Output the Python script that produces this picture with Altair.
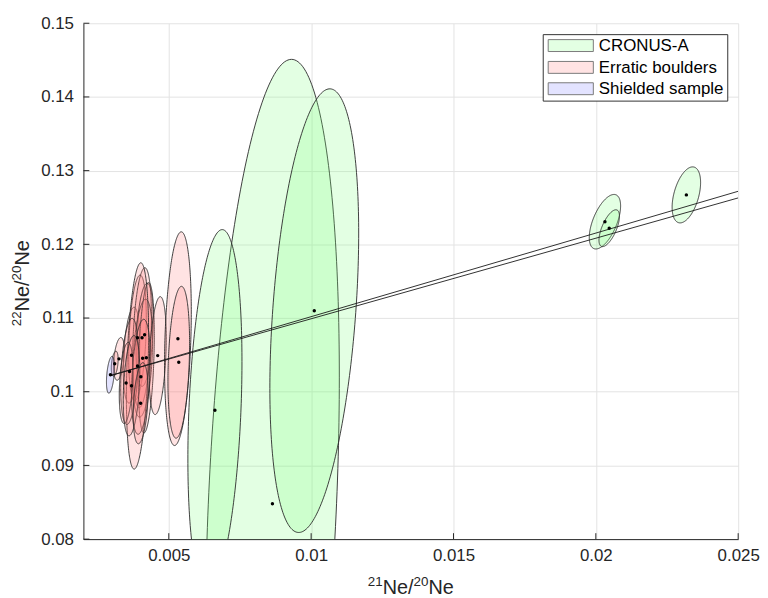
import altair as alt
import numpy as np
import pandas as pd

groups = ["CRONUS-A", "Erratic boulders", "Shielded sample"]
pure_cols = ["#80ff80", "#ff8080", "#8080ff"]
swatch_cols = ["#e3ffe3", "#ffe3e3", "#e3e3ff"]

# CRONUS-A (21/20, 22/20, x extent, y extent, correlation)
cr_x = [0.00864, 0.01011, 0.00662, 0.02032, 0.02047, 0.02318]
cr_y = [0.0848, 0.1110, 0.0975, 0.12307, 0.12219, 0.12671]
cr_sx = [0.00235, 0.00156, 0.00095, 0.00055, 0.00036, 0.00050]
cr_sy = [0.0603, 0.0301, 0.0245, 0.0037, 0.0025, 0.0038]
cr_r = [0.285, 0.35, 0.27, 0.58, 0.65, 0.44]

# Erratic boulders
er_x = [0.00325, 0.00310, 0.00369, 0.00390, 0.00406, 0.00415, 0.00408, 0.00421,
        0.00390, 0.00362, 0.00402, 0.00350, 0.00369, 0.00401, 0.00461, 0.00532, 0.00535]
er_y = [0.10446, 0.10380, 0.10496, 0.10733, 0.10733, 0.10773, 0.10455, 0.10460,
        0.10350, 0.10275, 0.10203, 0.10119, 0.10082, 0.09844, 0.10490, 0.10720, 0.10400]
er_sx = [0.00019, 0.00012, 0.00029, 0.00031, 0.00033, 0.00030, 0.00035, 0.00028,
         0.00039, 0.00031, 0.00033, 0.00024, 0.00029, 0.00026, 0.00030, 0.00047, 0.00038]
er_sy = [0.0029, 0.0017, 0.0065, 0.0085, 0.0095, 0.0070, 0.0080, 0.0102,
         0.0140, 0.0072, 0.0078, 0.0055, 0.0068, 0.0055, 0.0080, 0.0145, 0.0103]
er_r = [0.35, 0.35, 0.3, 0.3, 0.3, 0.3, 0.3, 0.3,
        0.3, 0.3, 0.3, 0.3, 0.3, 0.3, 0.3, 0.25, 0.25]

# Shielded sample
sh_x = [0.00295]
sh_y = [0.1023]
sh_sx = [0.00014]
sh_sy = [0.0025]
sh_r = [0.4]

# Two lines
line_x = [0.00296, 0.025]
line1_y = [0.1022, 0.1272]
line2_y = [0.1022, 0.1263]

x_ticks = [0.005, 0.01, 0.015, 0.02, 0.025]
y_ticks = [0.08, 0.09, 0.10, 0.11, 0.12, 0.13, 0.14, 0.15]

# axis title pieces: (text, is_superscript)
x_title = [("21", True), ("Ne/", False), ("20", True), ("Ne", False)]
y_title = [("22", True), ("Ne/", False), ("20", True), ("Ne", False)]

sets = [
    (groups[0], cr_x, cr_y, cr_sx, cr_sy, cr_r),
    (groups[1], er_x, er_y, er_sx, er_sy, er_r),
    (groups[2], sh_x, sh_y, sh_sx, sh_sy, sh_r),
]

t = np.linspace(0, np.pi, 121)
ell_rows, pt_rows = [], []
eid = 0
for g, xs_, ys_, sxs, sys_, rs in sets:
    for cx, cy, sx, sy, r in zip(xs_, ys_, sxs, sys_, rs):
        q = np.sqrt(1 - r * r)
        ex = cx + sx * np.cos(t)
        yu = cy + sy * (r * np.cos(t) + q * np.sin(t))
        yl = cy + sy * (r * np.cos(t) - q * np.sin(t))
        for a, b, c in zip(ex, yu, yl):
            ell_rows.append({"id": eid, "group": g, "x": a, "y": b, "y2": c})
        pt_rows.append({"group": g, "x": cx, "y": cy})
        eid += 1
ell = pd.DataFrame(ell_rows)
pts = pd.DataFrame(pt_rows)

lines = pd.DataFrame({
    "x": line_x + line_x,
    "y": line1_y + line2_y,
    "line": ["a", "a", "b", "b"],
})

FONT = "Liberation Sans"
INK = "#262626"
W, H = 660, 520

x_scale = alt.Scale(domain=[0.002, 0.025], nice=False, zero=False)
y_scale = alt.Scale(domain=[0.08, 0.15], nice=False, zero=False)
x_axis = alt.Axis(values=x_ticks, format="~g", title=None, ticks=False, tickSize=0,
                  labelPadding=9, labelFlush=False, labelOverlap=False)
y_axis = alt.Axis(values=y_ticks, format="~g", title=None, ticks=False, tickSize=0,
                  labelPadding=10, labelFlush=False, labelOverlap=False)
X = alt.X("x:Q", scale=x_scale, axis=x_axis)
Y = alt.Y("y:Q", scale=y_scale, axis=y_axis)

ellipses = alt.Chart(ell).mark_area(
    clip=True, fillOpacity=0.22, stroke="#2a2a2a", strokeWidth=0.9
).encode(
    x=X, y=Y, y2="y2:Q", detail="id:N",
    fill=alt.Fill("group:N", scale=alt.Scale(domain=groups, range=pure_cols), legend=None),
)

spall = alt.Chart(lines).mark_line(clip=True, color="#1a1a1a", strokeWidth=0.9).encode(
    x=X, y=Y, detail="line:N"
)

dots = alt.Chart(pts).mark_circle(size=12, color="black", opacity=1).encode(x=X, y=Y)

xt = pd.DataFrame({"x": x_ticks})
yt = pd.DataFrame({"y": y_ticks})
xtick_rules = alt.Chart(xt).mark_rule(color=INK, strokeWidth=1).encode(
    x=X, y=alt.value(H), y2=alt.value(H - 6))
ytick_rules = alt.Chart(yt).mark_rule(color=INK, strokeWidth=1).encode(
    y=Y, x=alt.value(0), x2=alt.value(6))

# manual legend (box, swatches, labels)
box = alt.Chart(pd.DataFrame({"k": [0]})).mark_rect(
    fill="white", stroke="#333333", strokeWidth=1
).encode(x=alt.value(463.5), x2=alt.value(649.5), y=alt.value(11.5), y2=alt.value(78.5))

legend_layers = [box]
row_centers = [22.5, 44.5, 66.0]
for g, col, yc in zip(groups, swatch_cols, row_centers):
    d = pd.DataFrame({"label": [g]})
    legend_layers.append(
        alt.Chart(d).mark_rect(fill=col, stroke="#7a7a7a", strokeWidth=1).encode(
            x=alt.value(468.5), x2=alt.value(514), y=alt.value(yc - 6), y2=alt.value(yc + 6))
    )
    legend_layers.append(
        alt.Chart(d).mark_text(align="left", baseline="middle", font=FONT, fontSize=17,
                               color="black").encode(
            x=alt.value(519.5), y=alt.value(yc + 0.5), text="label:N")
    )

# axis titles with real superscripts, built from text pieces
BIG, SMALL = 20, 13.5
CW = {"N": 0.722, "e": 0.556, "/": 0.278}


def piece_width(s, sup):
    if sup:
        return len(s) * 0.556 * SMALL
    return sum(CW[c] for c in s) * BIG


title_layers = []
total = sum(piece_width(s, sup) for s, sup in x_title)
pos = W / 2 - total / 2
for s, sup in x_title:
    title_layers.append(
        alt.Chart(pd.DataFrame({"s": [s]})).mark_text(
            align="left", baseline="alphabetic", font=FONT,
            fontSize=SMALL if sup else BIG, color=INK
        ).encode(x=alt.value(pos), y=alt.value(H + 55 - (7.5 if sup else 0)), text="s:N")
    )
    pos += piece_width(s, sup)

total = sum(piece_width(s, sup) for s, sup in y_title)
pos = 262 + total / 2
for s, sup in y_title:
    title_layers.append(
        alt.Chart(pd.DataFrame({"s": [s]})).mark_text(
            align="left", baseline="alphabetic", font=FONT, angle=270,
            fontSize=SMALL if sup else BIG, color=INK
        ).encode(x=alt.value(-55 - (7.5 if sup else 0)), y=alt.value(pos), text="s:N")
    )
    pos -= piece_width(s, sup)

chart = alt.layer(ellipses, spall, dots, xtick_rules, ytick_rules,
                  *legend_layers, *title_layers).properties(
    width=W, height=H,
    autosize=alt.AutoSizeParams(type="none"),
    padding={"left": 76, "top": 13, "right": 22, "bottom": 60},
).configure_view(stroke=None).configure_axis(
    domainColor=INK, domainWidth=1, gridColor="#e3e3e3", gridWidth=1,
    labelFont=FONT, labelFontSize=17, labelColor=INK,
)

chart.save("out.html", embed_options={"renderer": "svg", "actions": False})
